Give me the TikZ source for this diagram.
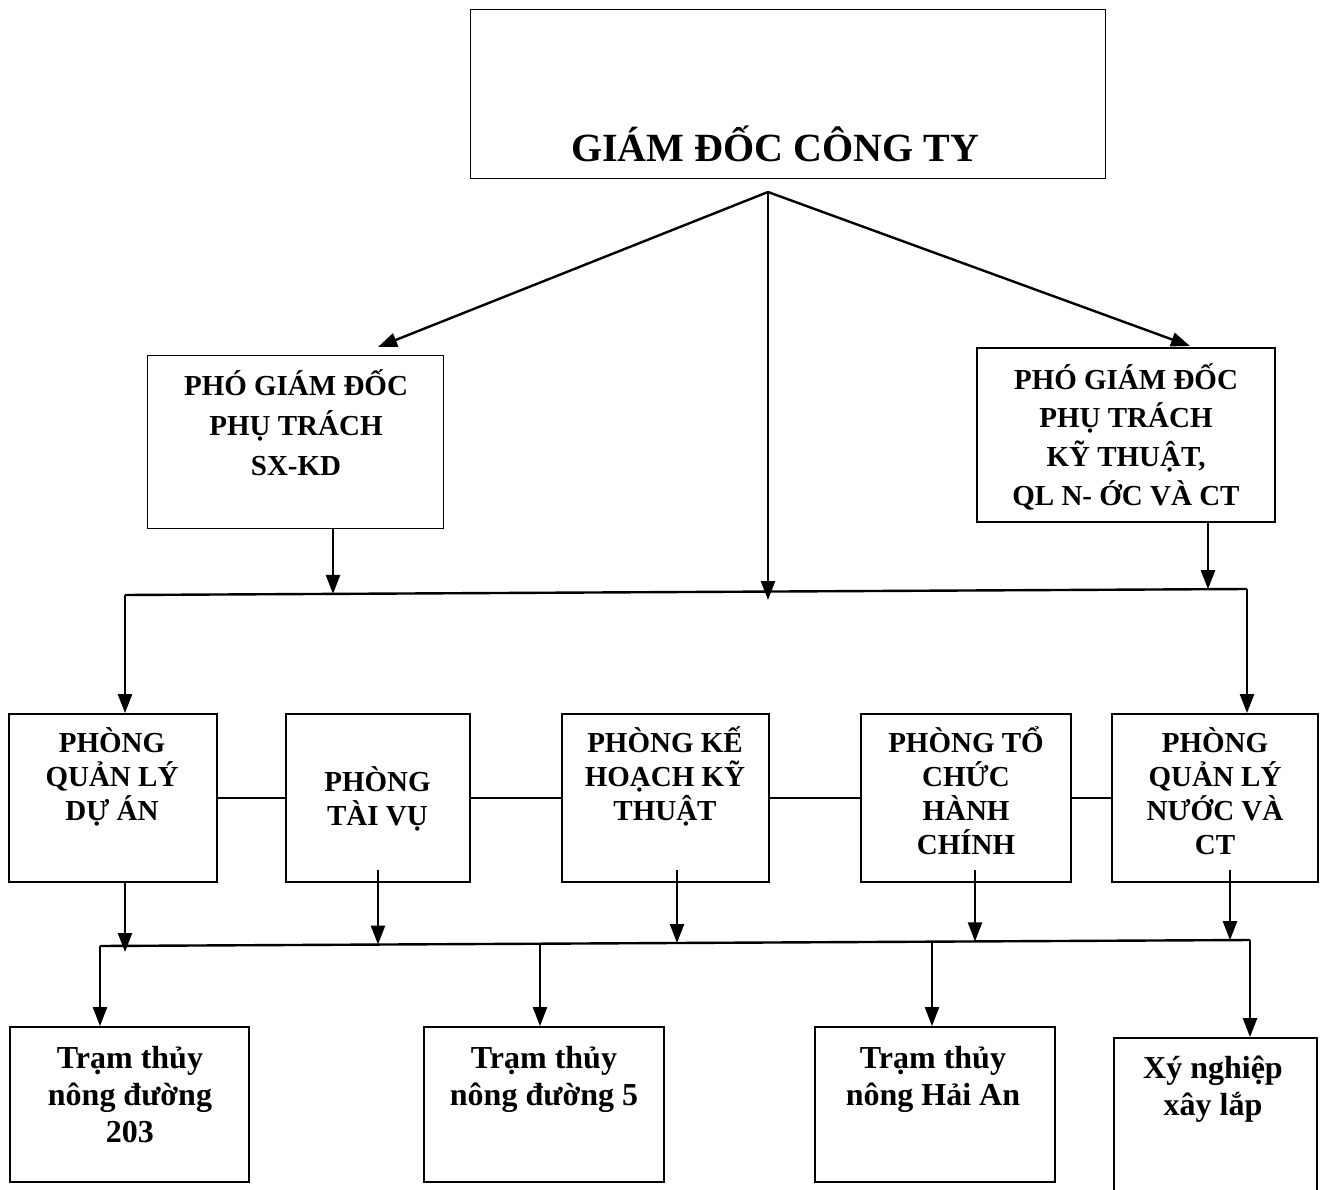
\documentclass[tikz,border=0pt]{standalone}
\usepackage{fontspec}
\setmainfont{Liberation Serif}
\usetikzlibrary{arrows.meta}
\begin{document}
\begin{tikzpicture}[x=1pt,y=-1pt,
  box/.style={draw, line width=1.8pt, inner sep=0pt},
  thinbox/.style={draw, line width=1pt, inner sep=0pt},
  lbl/.style={align=flush center, anchor=base, inner sep=0pt},
  head/.style={lbl, font={\bfseries\fontsize{40}{46}\selectfont}},
  pgdtext/.style={lbl, text width=290pt, font={\bfseries\fontsize{29}{40}\selectfont}},
  pgdtextb/.style={lbl, text width=290pt, font={\bfseries\fontsize{29}{38.7}\selectfont}},
  roomtext/.style={lbl, text width=210pt, font={\bfseries\fontsize{29}{34}\selectfont}},
  unittext/.style={lbl, text width=240pt, font={\bfseries\fontsize{32}{37}\selectfont}},
  link/.style={line width=1.8pt},
  arr/.style={line width=2.4pt, -{Triangle[width=14pt,length=19pt]}},
]
\useasboundingbox (0,0) rectangle (1328,1190);
\fill[white] (0,0) rectangle (1328,1190);

% ---- director ----
\node[thinbox, minimum width=635pt, minimum height=169pt] (gd) at (787.5,94.5) {};
\node[head] (gdt) at (775,162) {GIÁM ĐỐC CÔNG TY};

% ---- deputy directors ----
\node[thinbox, minimum width=296pt, minimum height=173pt] (pl) at (295,441.5) {};
\node[pgdtext] (plt) at (296,395) {PHÓ GIÁM ĐỐC\\PHỤ TRÁCH\\SX-KD};
\node[box, line width=1.4pt, minimum width=298pt, minimum height=174pt] (pr) at (1126,435) {};
\node[pgdtextb] (prt) at (1126,389) {PHÓ GIÁM ĐỐC\\PHỤ TRÁCH\\KỸ THUẬT,\\QL N- ỚC VÀ CT};

% ---- departments ----
\node[box, minimum width=208pt, minimum height=168pt] (b1) at (113,798) {};
\node[box, minimum width=184pt, minimum height=168pt] (b2) at (378,798) {};
\node[box, minimum width=207pt, minimum height=168pt] (b3) at (665.5,798) {};
\node[box, minimum width=210pt, minimum height=168pt] (b4) at (966,798) {};
\node[box, minimum width=206pt, minimum height=168pt] (b5) at (1215,798) {};
\node[roomtext] (b1t) at (112,752) {PHÒNG\\QUẢN LÝ\\DỰ ÁN};
\node[roomtext] (b2t) at (377.5,791) {PHÒNG\\TÀI VỤ};
\node[roomtext] (b3t) at (665,752) {PHÒNG KẾ\\HOẠCH KỸ\\THUẬT};
\node[roomtext] (b4t) at (966,752) {PHÒNG TỔ\\CHỨC\\HÀNH\\CHÍNH};
\node[roomtext] (b5t) at (1215,752) {PHÒNG\\QUẢN LÝ\\NƯỚC VÀ\\CT};

% ---- units ----
\node[box, minimum width=239pt, minimum height=155pt] (c1) at (129.5,1104.5) {};
\node[box, minimum width=240pt, minimum height=155pt] (c2) at (544,1104.5) {};
\node[box, minimum width=240pt, minimum height=155pt] (c3) at (935,1104.5) {};
\node[box, minimum width=203pt, minimum height=170pt] (c4) at (1215.5,1123) {};
\node[unittext] (c1t) at (130,1068) {Trạm thủy\\nông đường\\203};
\node[unittext] (c2t) at (544,1068) {Trạm thủy\\nông đường 5};
\node[unittext] (c3t) at (933,1068) {Trạm thủy\\nông Hải An};
\node[unittext] (c4t) at (1213,1078) {Xý nghiệp\\xây lắp};

% ---- connector points ----
\coordinate (apex) at (768,192);
\coordinate (tipL) at (378,347);
\coordinate (tipR) at (1190,346);
\coordinate (tipM) at (768,600);
\coordinate (busAL) at (125,595);
\coordinate (busAR) at (1247,589);
\coordinate (busA1) at (333,593.9);
\coordinate (busA2) at (1208,589.2);
\coordinate (srcL) at (333,528);
\coordinate (srcR) at (1208,522);
\coordinate (busBL) at (100,946);
\coordinate (busBR) at (1250,940);
\coordinate (s1) at (125,882);
\coordinate (s2) at (378,870);
\coordinate (s3) at (677,870);
\coordinate (s4) at (975,870);
\coordinate (s5) at (1230,870);
\coordinate (e1) at (125,952);
\coordinate (e2) at (378,944.5);
\coordinate (e3) at (677,943);
\coordinate (e4) at (975,941.4);
\coordinate (e5) at (1230,940.1);
\coordinate (d2) at (540,943.7);
\coordinate (d3) at (932,941.7);

% ---- director to deputies and departments ----
\draw[arr] (apex) -- (tipL);
\draw[arr] (apex) -- (tipR);
\draw[arr] (apex) -- (tipM);
\draw[arr] (srcL) -- (busA1);
\draw[arr] (srcR) -- (busA2);
\draw[link, line width=2.4pt] (busAL) -- (busAR);
\draw[arr] (busAL) -- (busAL |- b1.north);
\draw[arr] (busAR) -- (busAR |- b5.north);

% ---- links between departments ----
\draw[link] (b1.east) -- (b2.west);
\draw[link] (b2.east) -- (b3.west);
\draw[link] (b3.east) -- (b4.west);
\draw[link] (b4.east) -- (b5.west);

% ---- departments to units ----
\draw[arr] (s1) -- (e1);
\draw[arr] (s2) -- (e2);
\draw[arr] (s3) -- (e3);
\draw[arr] (s4) -- (e4);
\draw[arr] (s5) -- (e5);
\draw[link, line width=2.4pt] (busBL) -- (busBR);
\draw[arr] (busBL) -- (busBL |- c1.north);
\draw[arr] (d2) -- (d2 |- c2.north);
\draw[arr] (d3) -- (d3 |- c3.north);
\draw[arr] (busBR) -- (busBR |- c4.north);
\end{tikzpicture}
\end{document}
